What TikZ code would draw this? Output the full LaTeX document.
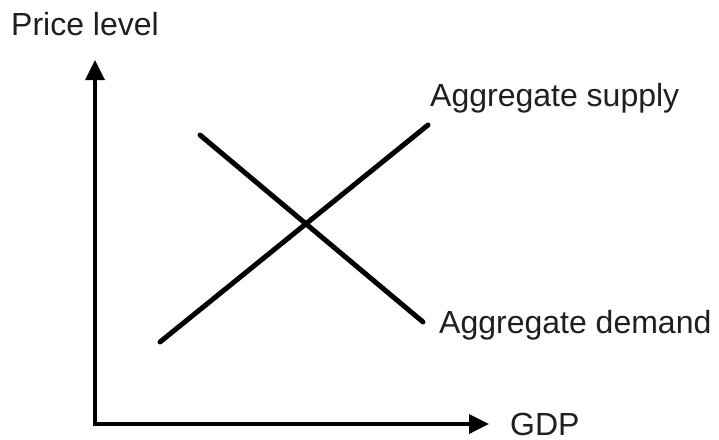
\documentclass[tikz,border=0pt]{standalone}
\usepackage{fontspec}
\setmainfont{Liberation Sans}
\usetikzlibrary{arrows.meta}
\begin{document}
\begin{tikzpicture}[x=1pt,y=-1pt,
  axis/.style={line width=3.5pt,-{Triangle[length=20pt,width=19pt]}},
  curve/.style={line width=5pt,line cap=round},
  lbl/.style={font=\fontsize{32}{34}\selectfont,inner sep=0pt,anchor=base west,text=black!88}]
\useasboundingbox (0,0) rectangle (719,439);
% axes
\coordinate (O) at (95,424);
\coordinate (ytop) at (95,60);
\coordinate (xend) at (489,424);
\draw[axis] ([yshift=1.75pt]O) -- (ytop);
\draw[axis] ([xshift=-1.75pt]O) -- (xend);
% curves
\coordinate (s1) at (160,342);
\coordinate (s2) at (428,125);
\coordinate (d1) at (200,135);
\coordinate (d2) at (423,322);
\draw[curve] (s1) -- (s2);
\draw[curve] (d1) -- (d2);
% labels
\node[lbl] (py) at (11,35) {Price level};
\node[lbl] (gdp) at (510,435) {GDP};
\node[lbl] (as) at (430,106) {Aggregate supply};
\node[lbl] (ad) at (439,333) {Aggregate demand};
\end{tikzpicture}
\end{document}
